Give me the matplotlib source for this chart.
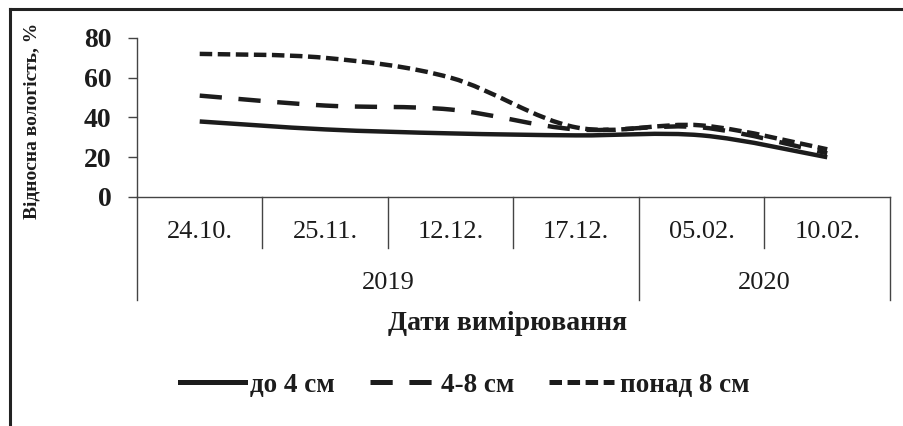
import numpy as np
import matplotlib
matplotlib.use("Agg")
import matplotlib.pyplot as plt
from matplotlib.path import Path
from matplotlib.patches import PathPatch
from matplotlib.lines import Line2D

plt.rcParams['font.family'] = ['Liberation Serif', 'DejaVu Serif']
plt.rcParams['lines.scale_dashes'] = False

dates = ["24.10.", "25.11.", "12.12.", "17.12.", "05.02.", "10.02."]
years = ["2019", "2020"]
year_counts = [4, 2]
series_names = ["до 4 см", "4-8 см", "понад 8 см"]
upto4 = [38, 34, 32, 31, 31, 20]
from4to8 = [51, 46, 44, 34, 35, 22]
over8 = [72, 70, 60, 35, 36, 24]

styles = ["-", (0, (16, 12)), (0, (9, 4))]
ink = "#1c1c1c"


def smooth_path(xs, ys):
    # excel-like smoothed line: cubic bezier through the points
    pts = np.column_stack([xs, ys]).astype(float)
    verts = [pts[0]]
    codes = [Path.MOVETO]
    n = len(pts)
    for i in range(n - 1):
        p0 = pts[i - 1] if i > 0 else pts[i]
        p1 = pts[i]
        p2 = pts[i + 1]
        p3 = pts[i + 2] if i + 2 < n else pts[i + 1]
        c1 = p1 + (p2 - p0) / 6.0
        c2 = p2 - (p3 - p1) / 6.0
        verts += [c1, c2, p2]
        codes += [Path.CURVE4] * 3
    return Path(verts, codes)


fig = plt.figure(figsize=(9.04, 4.26), dpi=100)
ax = fig.add_axes([0.1515, 0.5376, 0.833, 0.3732])

x = np.arange(len(dates))
for vals, ls in zip([upto4, from4to8, over8], styles):
    patch = PathPatch(smooth_path(x, vals), fill=False, edgecolor=ink,
                      linewidth=3.2, linestyle=ls, capstyle="butt")
    ax.add_patch(patch)

ax.set_xlim(-0.5, len(dates) - 0.5)
ax.set_ylim(0, 80)
ax.set_yticks([0, 20, 40, 60, 80])
ax.set_xticks([])
for s in ["top", "right"]:
    ax.spines[s].set_visible(False)
for s in ["left", "bottom"]:
    ax.spines[s].set_color("#444444")
    ax.spines[s].set_linewidth(1.0)
ax.tick_params(axis="y", length=6.5, width=1.0, color="#444444", pad=12,
               labelsize=20, labelcolor=ink)
for lab in ax.get_yticklabels():
    lab.set_fontweight("bold")

trans = ax.get_xaxis_transform()
# category dividers and labels
year_edges = np.cumsum([0] + year_counts) - 0.5
for i in range(len(dates) + 1):
    xe = i - 0.5
    depth = -0.65 if xe in year_edges else -0.32
    ax.plot([xe, xe], [0, depth], transform=trans, color="#444444",
            lw=1.0, clip_on=False)
for i, d in enumerate(dates):
    ax.text(i, -0.22, d, transform=trans, ha="center", va="center",
            fontsize=19, color=ink)
for k, yr in enumerate(years):
    mid = (year_edges[k] + year_edges[k + 1]) / 2
    ax.text(mid, -0.54, yr, transform=trans, ha="center", va="center",
            fontsize=19, color=ink)

fig.text(0.562, 0.24, "Дати вимірювання", ha="center", va="center",
         fontsize=20, fontweight="bold", color=ink)
fig.text(0.035, 0.716, "Відносна вологість, %", rotation=90, ha="center",
         va="center", fontsize=14, fontweight="bold", color=ink)

handles = [Line2D([], [], color=ink, lw=3.6, linestyle=ls) for ls in styles]
leg = fig.legend(handles, series_names, loc="center", bbox_to_anchor=(0.514, 0.096),
                 ncol=3, frameon=False, handlelength=2.4, handletextpad=0.2,
                 columnspacing=1.3, prop={"size": 19.5, "weight": "bold"})
for t in leg.get_texts():
    t.set_color(ink)

# outer frame (top and left edges only visible)
fig.add_artist(Line2D([0.011, 1.0], [0.979, 0.979], transform=fig.transFigure,
                      color="#222222", lw=2.2))
fig.add_artist(Line2D([0.011, 0.011], [0.0, 0.979], transform=fig.transFigure,
                      color="#222222", lw=2.2))

fig.savefig("out.png", dpi=100)
